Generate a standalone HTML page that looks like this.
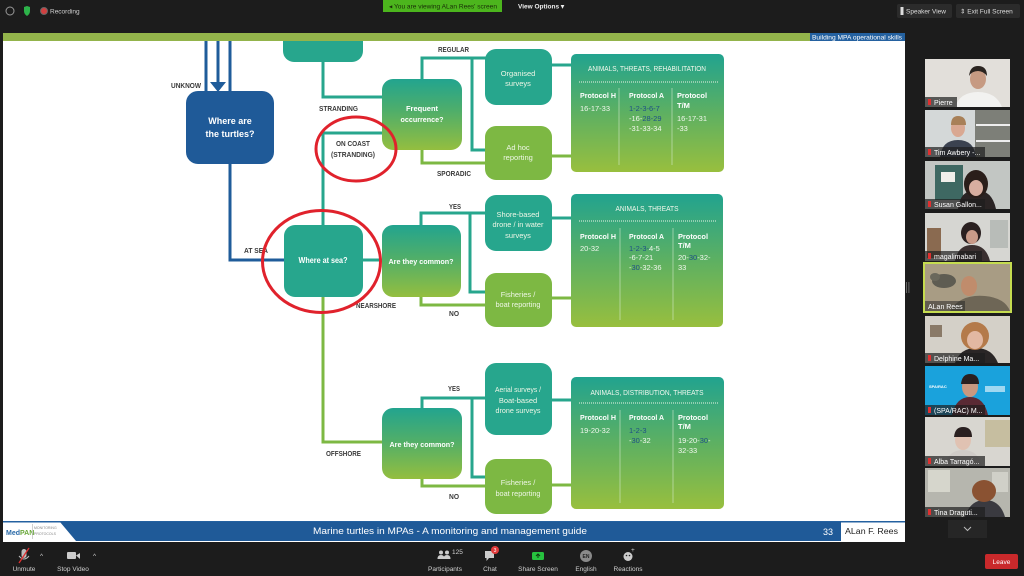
<!DOCTYPE html>
<html><head><meta charset="utf-8"><style>
html,body{margin:0;padding:0;background:#1c1c1c;width:1024px;height:576px;overflow:hidden}
svg{display:block}
.lbl{font-family:"Liberation Sans",sans-serif;font-weight:bold;fill:#3a3a3a;font-size:7.5px}
.bx{font-family:"Liberation Sans",sans-serif;font-weight:bold;fill:#fff;text-anchor:middle}
.bl{font-family:"Liberation Sans",sans-serif;fill:#eef6e6;text-anchor:middle;font-size:7.5px}
.tt{font-family:"Liberation Sans",sans-serif;fill:#f2f8ee;font-size:7.5px}
.th{font-family:"Liberation Sans",sans-serif;font-weight:bold;fill:#fff;font-size:7.5px}
.bv{fill:#1e4f86}
.ui{font-family:"Liberation Sans",sans-serif;fill:#d0d0d0;font-size:6.5px}
.nm{font-family:"Liberation Sans",sans-serif;fill:#fff;font-size:7px}
</style></head><body>
<svg width="1024" height="576" viewBox="0 0 1024 576" xmlns="http://www.w3.org/2000/svg">
<defs>
<linearGradient id="g" x1="0" y1="0" x2="0" y2="1">
<stop offset="0" stop-color="#22a48f"/><stop offset="0.45" stop-color="#4fae6a"/><stop offset="1" stop-color="#94be3f"/>
</linearGradient>
<linearGradient id="gt" x1="0" y1="0" x2="0" y2="1">
<stop offset="0" stop-color="#21a38f"/><stop offset="0.5" stop-color="#5db062"/><stop offset="1" stop-color="#98bf3e"/>
</linearGradient>
</defs>
<rect x="0" y="0" width="1024" height="576" fill="#1c1c1c"/>
<!-- slide -->
<rect x="3" y="41" width="902" height="481" fill="#ffffff"/>

<!-- connectors blue -->
<g stroke="#1f5c9a" stroke-width="3" fill="none">
<path d="M206,30 V92"/><path d="M230,30 V92"/><path d="M218,30 V84"/>
<path d="M230,164 V260 H285"/>
</g>
<polygon points="210,82 226,82 218,92" fill="#1f5c9a"/>
<!-- teal -->
<g stroke="#27a68d" stroke-width="3" fill="none">
<path d="M323,60 V97 H384"/>
<path d="M323,226 V133 H384"/>
<path d="M422,80 V58 H487"/><path d="M472,58 V150 H487"/>
<path d="M551,65 H572"/><path d="M551,218 H572"/>
<path d="M362,260 H383"/>
<path d="M421,226 V213 H487"/><path d="M470,213 V292 H487"/>
<path d="M422,409 V398 H487"/><path d="M472,398 V477 H487"/>
<path d="M551,400 H572"/>
</g>
<!-- green -->
<g stroke="#7db843" stroke-width="3" fill="none">
<path d="M422,149 V163 H487"/><path d="M551,156 H572"/>
<path d="M421,296 V305 H487"/><path d="M551,298 H572"/>
<path d="M323,296 V442 H383"/>
<path d="M422,478 V486 H487"/><path d="M551,485 H572"/>
</g>

<!-- boxes -->
<rect x="283" y="18" width="80" height="44" rx="11" fill="#27a68d"/>
<rect x="186" y="91" width="88" height="73" rx="12" fill="#1f5a98"/>
<rect x="284" y="225" width="79" height="72" rx="11" fill="#27a68d"/>
<rect x="382" y="79" width="80" height="71" rx="11" fill="url(#g)"/>
<rect x="485" y="49" width="67" height="56" rx="11" fill="#27a68d"/>
<rect x="485" y="126" width="67" height="54" rx="11" fill="#7db843"/>
<rect x="382" y="225" width="79" height="72" rx="11" fill="url(#g)"/>
<rect x="485" y="195" width="67" height="56" rx="11" fill="#27a68d"/>
<rect x="485" y="273" width="67" height="54" rx="11" fill="#7db843"/>
<rect x="382" y="408" width="80" height="71" rx="11" fill="url(#g)"/>
<rect x="485" y="363" width="67" height="72" rx="11" fill="#27a68d"/>
<rect x="485" y="459" width="67" height="55" rx="11" fill="#7db843"/>
<!-- tables -->
<rect x="571" y="54" width="153" height="118" rx="5" fill="url(#gt)"/>
<rect x="571" y="194" width="152" height="133" rx="5" fill="url(#gt)"/>
<rect x="571" y="377" width="153" height="132" rx="5" fill="url(#gt)"/>
<g stroke="#eaf4e4" stroke-width="1" stroke-dasharray="1 1">
<path d="M579,82 H718"/><path d="M579,221 H717"/><path d="M579,403 H718"/>
</g>
<g stroke="#d8ecd0" stroke-width="0.7" opacity="0.8">
<path d="M619,88 V165"/><path d="M672,88 V165"/>
<path d="M620,228 V320"/><path d="M673,228 V320"/>
<path d="M620,410 V503"/><path d="M673,410 V503"/>
</g>

<!-- box text -->
<text class="bx" font-size="9" x="230" y="124">Where are</text>
<text class="bx" font-size="9" x="230" y="137" textLength="49" lengthAdjust="spacingAndGlyphs">the turtles?</text>
<text class="bx" font-size="8" x="323" y="263" textLength="49" lengthAdjust="spacingAndGlyphs">Where at sea?</text>
<text class="bx" font-size="7.5" x="422" y="111">Frequent</text>
<text class="bx" font-size="7.5" x="422" y="122" textLength="43" lengthAdjust="spacingAndGlyphs">occurrence?</text>
<text class="bx" font-size="7.5" x="421" y="264" textLength="65" lengthAdjust="spacingAndGlyphs">Are they common?</text>
<text class="bx" font-size="7.5" x="422" y="447" textLength="65" lengthAdjust="spacingAndGlyphs">Are they common?</text>
<text class="bl" x="518" y="76">Organised</text><text class="bl" x="518" y="86">surveys</text>
<text class="bl" x="518" y="150">Ad hoc</text><text class="bl" x="518" y="160">reporting</text>
<text class="bl" x="518" y="217">Shore-based</text>
<text class="bl" x="518" y="227" textLength="51" lengthAdjust="spacingAndGlyphs">drone / in water</text>
<text class="bl" x="518" y="238">surveys</text>
<text class="bl" x="518" y="297">Fisheries /</text>
<text class="bl" x="518" y="307" textLength="45" lengthAdjust="spacingAndGlyphs">boat reporting</text>
<text class="bl" x="518" y="392" textLength="46" lengthAdjust="spacingAndGlyphs">Aerial surveys /</text>
<text class="bl" x="518" y="403">Boat-based</text>
<text class="bl" x="518" y="413" textLength="45" lengthAdjust="spacingAndGlyphs">drone surveys</text>
<text class="bl" x="518" y="485">Fisheries /</text>
<text class="bl" x="518" y="496" textLength="45" lengthAdjust="spacingAndGlyphs">boat reporting</text>

<!-- table 1 text -->
<text class="tt" x="647" y="71" text-anchor="middle" textLength="118" lengthAdjust="spacingAndGlyphs">ANIMALS, THREATS, REHABILITATION</text>
<text class="th" x="580" y="98" textLength="36" lengthAdjust="spacingAndGlyphs">Protocol H</text>
<text class="th" x="629" y="98" textLength="35" lengthAdjust="spacingAndGlyphs">Protocol A</text>
<text class="th" x="677" y="98" textLength="30" lengthAdjust="spacingAndGlyphs">Protocol</text>
<text class="th" x="677" y="108">T/M</text>
<text class="tt" x="580" y="111">16-17-33</text>
<text class="tt bv" x="629" y="111">1-2-3-6-7</text>
<text class="tt" x="629" y="121">-16-<tspan class="bv">28-29</tspan></text>
<text class="tt" x="629" y="131">-31-33-34</text>
<text class="tt" x="677" y="121">16-17-31</text>
<text class="tt" x="677" y="131">-33</text>
<!-- table 2 -->
<text class="tt" x="647" y="211" text-anchor="middle" textLength="63" lengthAdjust="spacingAndGlyphs">ANIMALS, THREATS</text>
<text class="th" x="580" y="239" textLength="36" lengthAdjust="spacingAndGlyphs">Protocol H</text>
<text class="th" x="629" y="239" textLength="35" lengthAdjust="spacingAndGlyphs">Protocol A</text>
<text class="th" x="678" y="239" textLength="30" lengthAdjust="spacingAndGlyphs">Protocol</text>
<text class="th" x="678" y="248">T/M</text>
<text class="tt" x="580" y="251">20-32</text>
<text class="tt" x="629" y="251"><tspan class="bv">1-2-3-</tspan>4-5</text>
<text class="tt" x="629" y="260">-6-7-21</text>
<text class="tt" x="629" y="270">-<tspan class="bv">30</tspan>-32-36</text>
<text class="tt" x="678" y="260">20-<tspan class="bv">30</tspan>-32-</text>
<text class="tt" x="678" y="270">33</text>
<!-- table 3 -->
<text class="tt" x="647" y="395" text-anchor="middle" textLength="113" lengthAdjust="spacingAndGlyphs">ANIMALS, DISTRIBUTION, THREATS</text>
<text class="th" x="580" y="420" textLength="36" lengthAdjust="spacingAndGlyphs">Protocol H</text>
<text class="th" x="629" y="420" textLength="35" lengthAdjust="spacingAndGlyphs">Protocol A</text>
<text class="th" x="678" y="420" textLength="30" lengthAdjust="spacingAndGlyphs">Protocol</text>
<text class="th" x="678" y="429">T/M</text>
<text class="tt" x="580" y="433">19-20-32</text>
<text class="tt bv" x="629" y="433">1-2-3</text>
<text class="tt" x="629" y="443">-<tspan class="bv">30</tspan>-32</text>
<text class="tt" x="678" y="443">19-20-<tspan class="bv">30</tspan>-</text>
<text class="tt" x="678" y="453">32-33</text>

<!-- labels -->
<text class="lbl" x="171" y="88" textLength="30" lengthAdjust="spacingAndGlyphs">UNKNOW</text>
<text class="lbl" x="319" y="111" textLength="39" lengthAdjust="spacingAndGlyphs">STRANDING</text>
<text class="lbl" x="353" y="146" text-anchor="middle" textLength="34" lengthAdjust="spacingAndGlyphs" font-weight="normal">ON COAST</text>
<text class="lbl" x="353" y="157" text-anchor="middle" textLength="44" lengthAdjust="spacingAndGlyphs" font-weight="normal">(STRANDING)</text>
<text class="lbl" x="244" y="253" textLength="24" lengthAdjust="spacingAndGlyphs">AT SEA</text>
<text class="lbl" x="438" y="52" textLength="31" lengthAdjust="spacingAndGlyphs">REGULAR</text>
<text class="lbl" x="437" y="176" textLength="34" lengthAdjust="spacingAndGlyphs">SPORADIC</text>
<text class="lbl" x="449" y="209" textLength="12" lengthAdjust="spacingAndGlyphs">YES</text>
<text class="lbl" x="449" y="316" textLength="10" lengthAdjust="spacingAndGlyphs">NO</text>
<text class="lbl" x="356" y="308" textLength="40" lengthAdjust="spacingAndGlyphs">NEARSHORE</text>
<text class="lbl" x="326" y="456" textLength="35" lengthAdjust="spacingAndGlyphs">OFFSHORE</text>
<text class="lbl" x="448" y="391" textLength="12" lengthAdjust="spacingAndGlyphs">YES</text>
<text class="lbl" x="449" y="499" textLength="10" lengthAdjust="spacingAndGlyphs">NO</text>

<!-- red circles -->
<ellipse cx="356" cy="149" rx="40" ry="32" fill="none" stroke="#e0222c" stroke-width="3"/>
<ellipse cx="321.5" cy="261.5" rx="59" ry="51" fill="none" stroke="#e0222c" stroke-width="3"/>

<!-- top bars -->
<rect x="0" y="0" width="1024" height="33" fill="#1c1c1c"/>
<rect x="3" y="33" width="902" height="8" fill="#93b44b"/>
<rect x="810" y="33" width="95" height="8" fill="#2461a0"/>
<text x="857" y="39.5" text-anchor="middle" font-family="Liberation Sans, sans-serif" font-size="6" fill="#fff" textLength="90" lengthAdjust="spacingAndGlyphs">Building MPA operational skills</text>

<!-- footer -->
<rect x="3" y="521" width="902" height="21" fill="#ffffff"/>
<rect x="3" y="521" width="902" height="1.5" fill="#2461a0"/>
<polygon points="60,522 841,522 841,541 76,541" fill="#1f5a98"/>
<text x="450" y="534" text-anchor="middle" font-family="Liberation Sans, sans-serif" font-size="9.5" fill="#fff" textLength="274" lengthAdjust="spacingAndGlyphs">Marine turtles in MPAs - A monitoring and management guide</text>
<text x="828" y="535" text-anchor="middle" font-family="Liberation Sans, sans-serif" font-size="9" fill="#fff">33</text>
<text x="845" y="534" font-family="Liberation Sans, sans-serif" font-size="8.5" fill="#222" textLength="53" lengthAdjust="spacingAndGlyphs">ALan F. Rees</text>
<text x="6" y="535" font-family="Liberation Sans, sans-serif" font-size="7" font-weight="bold" fill="#2a6aa8">Med<tspan fill="#6aa83a">PAN</tspan></text>
<rect x="32" y="524" width="0.7" height="15" fill="#bbb"/>
<text x="34" y="529" font-family="Liberation Sans, sans-serif" font-size="3.5" fill="#888">MONITORING</text>
<text x="34" y="535" font-family="Liberation Sans, sans-serif" font-size="3.5" fill="#888">PROTOCOLS</text>

<!-- top zoom bar -->
<circle cx="10" cy="11" r="4" fill="none" stroke="#999" stroke-width="1"/>
<path d="M24,7 L27,6 L30,7 L30,11 Q30,14 27,16 Q24,14 24,11 Z" fill="#2db34a"/>
<circle cx="44" cy="11" r="3.5" fill="#d04040" stroke="#666" stroke-width="1"/>
<text class="ui" x="50" y="13.5" font-size="7" fill="#ddd">Recording</text>
<rect x="383" y="0" width="119" height="12" fill="#4cb51d"/>
<text x="443" y="8.5" text-anchor="middle" font-family="Liberation Sans, sans-serif" font-size="6.5" fill="#1a2e08" textLength="108" lengthAdjust="spacingAndGlyphs">◂ You are viewing ALan Rees' screen</text>
<text x="518" y="8.5" font-family="Liberation Sans, sans-serif" font-size="6.5" fill="#eee" font-weight="bold">View Options ▾</text>
<rect x="897" y="4" width="55" height="14" rx="2" fill="#2b2b2b"/>
<rect x="900.5" y="7" width="3" height="8" fill="#ddd"/>
<text x="906" y="13.5" font-family="Liberation Sans, sans-serif" font-size="6.5" fill="#ddd">Speaker View</text>
<rect x="956" y="4" width="64" height="14" rx="2" fill="#2b2b2b"/>
<text x="960" y="13.5" font-family="Liberation Sans, sans-serif" font-size="6.5" fill="#ddd">⇕ Exit Full Screen</text>

<!-- participants -->
<g>
<rect x="925" y="59" width="85" height="48" fill="#e2dfda"/>
<path d="M955,107 Q960,92 978,92 Q996,92 1002,107 Z" fill="#f2f2f0"/>
<ellipse cx="978" cy="79" rx="8" ry="10" fill="#c69a82"/>
<path d="M969,76 Q970,66 978,66 Q987,66 987,76 Q983,71 978,71 Q972,71 969,76 Z" fill="#2a2420"/>
<rect x="925" y="97" width="32" height="10" fill="rgba(30,30,30,0.7)"/>
<rect x="928" y="99" width="3" height="6" fill="#e03030"/><text class="nm" x="934" y="105">Pierre</text>

<rect x="925" y="110" width="85" height="47" fill="#d4d8d8"/>
<rect x="975" y="110" width="35" height="47" fill="#7d7f78"/>
<rect x="976" y="124" width="34" height="2" fill="#eee"/><rect x="976" y="140" width="34" height="2" fill="#eee"/>
<path d="M940,157 Q942,140 958,140 Q974,140 976,157 Z" fill="#3b4250"/>
<ellipse cx="958" cy="128" rx="7" ry="9" fill="#d9a892"/>
<path d="M951,125 Q951,116 958,116 Q966,116 966,125 Z" fill="#a88058"/>
<rect x="925" y="147" width="60" height="10" fill="rgba(30,30,30,0.7)"/>
<rect x="928" y="149" width="3" height="6" fill="#e03030"/><text class="nm" x="934" y="155">Tim Awbery -...</text>

<rect x="925" y="161" width="85" height="48" fill="#c2c6c3"/>
<rect x="935" y="165" width="28" height="35" fill="#3e6862"/>
<rect x="941" y="172" width="14" height="10" fill="#f0eeea"/>
<path d="M958,209 Q960,190 976,190 Q992,190 996,209 Z" fill="#2a2424"/>
<ellipse cx="976" cy="184" rx="12" ry="14" fill="#2a1e1a"/>
<ellipse cx="976" cy="188" rx="7" ry="8" fill="#d8aea0"/>
<rect x="925" y="199" width="60" height="10" fill="rgba(30,30,30,0.7)"/>
<rect x="928" y="201" width="3" height="6" fill="#e03030"/><text class="nm" x="934" y="207">Susan Gallon...</text>

<rect x="925" y="213" width="85" height="48" fill="#d6d6d2"/>
<rect x="927" y="228" width="14" height="30" fill="#8a6a50"/>
<rect x="990" y="220" width="18" height="28" fill="#b8bcb8"/>
<path d="M955,261 Q958,245 972,245 Q986,245 990,261 Z" fill="#3a3030"/>
<ellipse cx="971" cy="233" rx="10" ry="11" fill="#2a2020"/>
<ellipse cx="972" cy="237" rx="6" ry="7" fill="#c89a88"/>
<rect x="925" y="251" width="57" height="10" fill="rgba(30,30,30,0.7)"/>
<rect x="928" y="253" width="3" height="6" fill="#e03030"/><text class="nm" x="934" y="259">magalimabari</text>

<rect x="923" y="262" width="89" height="51" fill="#c5dc50"/>
<rect x="925" y="264" width="85" height="47" fill="#a89c84"/>
<ellipse cx="944" cy="281" rx="12" ry="7" fill="#5e5c52"/>
<ellipse cx="935" cy="277" rx="5" ry="4" fill="#6a685c"/>
<path d="M950,311 Q960,294 985,296 Q1005,298 1010,311 Z" fill="#6e6656"/>
<ellipse cx="969" cy="286" rx="8" ry="10" fill="#c08c6c"/>
<rect x="925" y="301" width="40" height="10" fill="rgba(40,40,40,0.55)"/>
<text class="nm" x="928" y="309">ALan Rees</text>

<rect x="925" y="316" width="85" height="47" fill="#d4d0c8"/>
<rect x="930" y="325" width="12" height="12" fill="#8a7a68"/>
<path d="M955,363 Q960,348 976,348 Q992,348 998,363 Z" fill="#2a2626"/>
<ellipse cx="975" cy="336" rx="14" ry="14" fill="#b47a4a"/>
<ellipse cx="975" cy="340" rx="8" ry="9" fill="#e2b8a2"/>
<rect x="925" y="353" width="60" height="10" fill="rgba(30,30,30,0.7)"/>
<rect x="928" y="355" width="3" height="6" fill="#e03030"/><text class="nm" x="934" y="361">Delphine Ma...</text>

<rect x="925" y="366" width="85" height="49" fill="#1aa2dc"/>
<text x="929" y="388" font-family="Liberation Sans, sans-serif" font-size="4" fill="#fff" font-weight="bold">SPA/RAC</text>
<rect x="985" y="386" width="20" height="6" fill="#d8f0fa" opacity="0.7"/>
<path d="M952,415 Q956,397 970,397 Q984,397 988,415 Z" fill="#5a2a34"/>
<ellipse cx="970" cy="387" rx="8" ry="10" fill="#c89880"/>
<path d="M961,384 Q962,374 970,374 Q979,374 979,384 Z" fill="#2a2020"/>
<rect x="925" y="405" width="60" height="10" fill="rgba(30,30,30,0.7)"/>
<rect x="928" y="407" width="3" height="6" fill="#e03030"/><text class="nm" x="934" y="413">(SPA/RAC) M...</text>

<rect x="925" y="417" width="85" height="49" fill="#d8d6d0"/>
<rect x="985" y="420" width="25" height="27" fill="#c6bea0"/>
<path d="M945,466 Q948,450 963,450 Q978,450 982,466 Z" fill="#d0ccc8"/>
<ellipse cx="963" cy="440" rx="8" ry="10" fill="#e0c2b2"/>
<path d="M954,437 Q955,427 963,427 Q972,427 972,437 Z" fill="#2a2020"/>
<rect x="925" y="456" width="60" height="10" fill="rgba(30,30,30,0.7)"/>
<rect x="928" y="458" width="3" height="6" fill="#e03030"/><text class="nm" x="934" y="464">Alba Tarragó...</text>

<rect x="925" y="468" width="85" height="49" fill="#b6b6ae"/>
<rect x="928" y="470" width="22" height="22" fill="#d6d6cc"/>
<rect x="992" y="472" width="16" height="20" fill="#d0d0c8"/>
<path d="M965,517 Q970,500 985,500 Q1000,500 1005,517 Z" fill="#3a3a40"/>
<ellipse cx="984" cy="491" rx="12" ry="11" fill="#8a5232"/>
<rect x="925" y="507" width="60" height="10" fill="rgba(30,30,30,0.7)"/>
<rect x="928" y="509" width="3" height="6" fill="#e03030"/><text class="nm" x="934" y="515">Tina Draguti...</text>
</g>
<rect x="948" y="520" width="39" height="18" fill="#262626"/>
<path d="M964,527 L967.5,530.5 L971,527" stroke="#bbb" stroke-width="1" fill="none"/>
<rect x="906" y="282" width="0.8" height="11" fill="#777"/><rect x="908.5" y="282" width="0.8" height="11" fill="#777"/>

<!-- bottom toolbar -->
<rect x="21.5" y="549" width="5" height="9" rx="2.5" fill="#bbb"/>
<path d="M19,556 Q24,562 29,556" stroke="#bbb" fill="none" stroke-width="1"/>
<path d="M19,563 L29,548" stroke="#e03030" stroke-width="1.3"/>
<text class="ui" x="40" y="558" font-size="6">^</text>
<text class="ui" x="24" y="571" text-anchor="middle">Unmute</text>
<rect x="67" y="552" width="9" height="7" rx="1" fill="#ccc"/>
<polygon points="76,555.5 80,553 80,559" fill="#ccc"/>
<text class="ui" x="93" y="558" font-size="6">^</text>
<text class="ui" x="73" y="571" text-anchor="middle">Stop Video</text>

<circle cx="441" cy="552.5" r="2" fill="#ccc"/><circle cx="447" cy="552.5" r="2" fill="#ccc"/>
<path d="M437.5,559 Q437.5,555 441,555 Q444.5,555 444.5,559 Z M443.5,559 Q443.5,555 447,555 Q450.5,555 450.5,559 Z" fill="#ccc"/>
<text class="ui" x="452" y="554" font-size="5.5">125</text>
<text class="ui" x="445" y="571" text-anchor="middle">Participants</text>
<path d="M485,551 H494 V558 H489 L486.5,561 V558 H485 Z" fill="#ccc"/>
<circle cx="495" cy="550" r="4" fill="#e03a3a"/>
<text x="495" y="552" text-anchor="middle" font-family="Liberation Sans, sans-serif" font-size="5" fill="#fff">3</text>
<text class="ui" x="490" y="571" text-anchor="middle">Chat</text>
<rect x="532" y="552" width="12" height="8" rx="1.5" fill="#27c23f"/>
<path d="M538,558 V554 M536,556 L538,554 L540,556" stroke="#0d3a10" stroke-width="1" fill="none"/>
<text class="ui" x="538" y="571" text-anchor="middle" fill="#2cc84a">Share Screen</text>
<circle cx="586" cy="556" r="6" fill="#8a8a8a"/>
<text x="586" y="558" text-anchor="middle" font-family="Liberation Sans, sans-serif" font-size="5" fill="#222" font-weight="bold">EN</text>
<text class="ui" x="586" y="571" text-anchor="middle">English</text>
<circle cx="628" cy="556.5" r="4.5" fill="#ccc"/>
<circle cx="626.5" cy="555.5" r="0.8" fill="#222"/><circle cx="629.5" cy="555.5" r="0.8" fill="#222"/>
<text class="ui" x="631" y="552" font-size="6">+</text>
<text class="ui" x="628" y="571" text-anchor="middle">Reactions</text>
<rect x="985" y="554" width="33" height="15" rx="2" fill="#c9292b"/>
<text x="1001.5" y="564" text-anchor="middle" font-family="Liberation Sans, sans-serif" font-size="6.5" fill="#fff">Leave</text>
</svg>
</body></html>
